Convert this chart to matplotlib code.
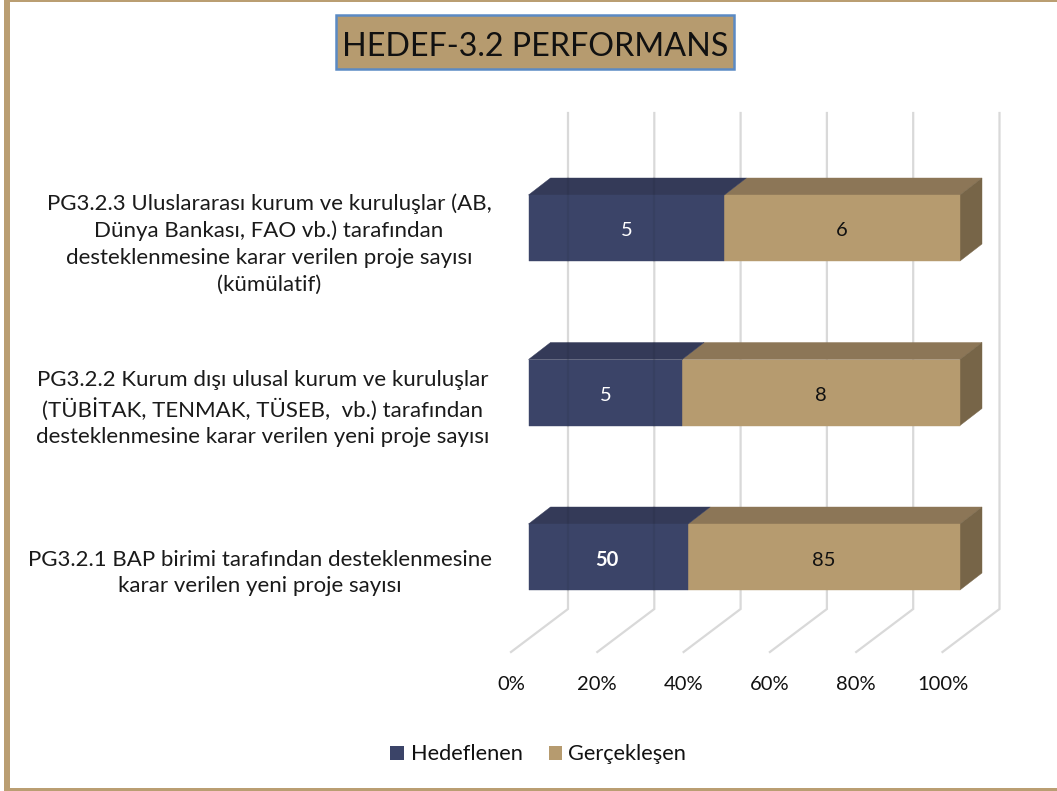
import matplotlib
matplotlib.use("Agg")
import matplotlib.pyplot as plt
from matplotlib.patches import Polygon, Rectangle


# ---------------- DATA ----------------
kategoriler = [
    "PG3.2.1 BAP birimi tarafından desteklenmesine\nkarar verilen yeni proje sayısı",
    "PG3.2.2 Kurum dışı ulusal kurum ve kuruluşlar\n(TÜBİTAK, TENMAK, TÜSEB,  vb.) tarafından\ndesteklenmesine karar verilen yeni proje sayısı",
    "PG3.2.3 Uluslararası kurum ve kuruluşlar (AB,\nDünya Bankası, FAO vb.) tarafından\ndesteklenmesine karar verilen proje sayısı\n(kümülatif)",
]
# bar shares, printed labels kept apart
hedeflenen_pay = [37.0, 35.6, 45.4]
gerceklesen_pay = [63.0, 64.4, 54.6]
hedeflenen_etiket = ["50", "5", "5"]
gerceklesen_etiket = ["85", "8", "6"]
x_ticks = [0, 20, 40, 60, 80, 100]
x_tick_labels = ["0%", "20%", "40%", "60%", "80%", "100%"]
baslik = "HEDEF-3.2 PERFORMANS"
seri_adlari = ["Hedeflenen", "Gerçekleşen"]

# ---------------- STYLE ----------------
NAVY, NAVY_TOP = "#3B4468", "#343A58"
TAN, TAN_TOP, TAN_SIDE = "#B69B6F", "#8C7657", "#776548"
GRID = "#D9D9D9"
BORDER = "#BA9E72"
W, H = 1057, 791

plt.rcParams["font.family"] = ["Lato", "DejaVu Sans"]

fig = plt.figure(figsize=(W / 100, H / 100), dpi=100)


def fig_rect(x0, y0, x1, y1, **kw):
    # pixel box, y counted from the top of the image
    fig.patches.append(Rectangle((x0 / W, 1 - y1 / H), (x1 - x0) / W, (y1 - y0) / H,
                                 transform=fig.transFigure, **kw))


# ---------------- FRAME ----------------
fig_rect(4, 0, 10, H, fc=BORDER, ec="none")
fig_rect(4, 0, W, 2, fc=BORDER, ec="none")
fig_rect(4, 788, W, H, fc=BORDER, ec="none")

# axes = front plane of the bars, 0-100% in x, categories in y
left, right, top, bottom = 528.5, 960, 145.75, 639.25
ax = fig.add_axes([left / W, 1 - bottom / H, (right - left) / W, (bottom - top) / H])
ax.set_xlim(0, 100)
ax.set_ylim(-0.5, 2.5)
ax.axis("off")

px_x = 100 / (right - left)
px_y = 3 / (bottom - top)
depth_x, depth_y = 22 * px_x, 17 * px_y
bar_h = 66 * px_y

# ---------------- BACK WALL AND FLOOR ----------------
wall_x, wall_y = 39.5 * px_x, (bottom - 609) * px_y - 0.5
floor_x, floor_y = -17.5 * px_x, (bottom - 652) * px_y - 0.5
wall_top = 2.5 + (top - 113) * px_y
for t, lab in zip(x_ticks, x_tick_labels):
    ax.plot([t + floor_x, t + wall_x, t + wall_x], [floor_y, wall_y, wall_top],
            color=GRID, lw=1.6, clip_on=False, zorder=1, solid_joinstyle="miter")
    ax.text(t + floor_x, floor_y - 32 * px_y, lab, ha="center", va="center",
            fontsize=14.5, color="#111111")

# ---------------- BARS ----------------
for i in range(len(kategoriler)):
    a, b = hedeflenen_pay[i], gerceklesen_pay[i]
    y0, y1 = i - bar_h / 2, i + bar_h / 2
    ax.add_patch(Polygon([(a, y1), (a + b, y1), (a + b + depth_x, y1 + depth_y), (a + depth_x, y1 + depth_y)],
                         fc=TAN_TOP, ec=TAN_TOP, lw=0.3, zorder=2, clip_on=False))
    ax.add_patch(Polygon([(a + b, y0), (a + b + depth_x, y0 + depth_y), (a + b + depth_x, y1 + depth_y), (a + b, y1)],
                         fc=TAN_SIDE, ec=TAN_SIDE, lw=0.3, zorder=2, clip_on=False))
    ax.add_patch(Rectangle((a, y0), b, bar_h, fc=TAN, ec=TAN, lw=0.3, zorder=2, clip_on=False))
    ax.add_patch(Polygon([(0, y1), (a, y1), (a + depth_x, y1 + depth_y), (depth_x, y1 + depth_y)],
                         fc=NAVY_TOP, ec=NAVY_TOP, lw=0.3, zorder=3, clip_on=False))
    ax.add_patch(Rectangle((0, y0), a, bar_h, fc=NAVY, ec=NAVY, lw=0.3, zorder=3, clip_on=False))

    # back wall lines show faintly through the navy part
    for t in x_ticks:
        if t + wall_x < a:
            ax.plot([t + wall_x, t + wall_x], [y0, y1 + depth_y], color="black", alpha=0.06,
                    lw=1.6, zorder=3.5, clip_on=False)

    kalin = "bold" if hedeflenen_etiket[i] == "50" else "normal"
    ax.text(a / 2 - (1 if kalin == "bold" else 0) * 2 * px_x, i - 3 * px_y, hedeflenen_etiket[i], color="white",
            ha="center", va="center", fontsize=14.5, fontweight=kalin, zorder=4)
    ax.text(a + b / 2, i - 3 * px_y, gerceklesen_etiket[i], color="#111111", ha="center", va="center",
            fontsize=14.5, zorder=4)

# ---------------- CATEGORY LABELS ----------------
label_x = [260, 263, 269]
for i, lab in enumerate(kategoriler):
    fig.text(label_x[i] / W, 1 - (573 - 164.5 * i) / H, lab, ha="center", va="center",
             fontsize=16, linespacing=1.42, color="#1A1A1A")

# ---------------- TITLE BOX ----------------
fig_rect(336, 15, 734, 69, fc=TAN, ec="#5B8AC4", lw=1.8, zorder=0)
fig.text(535 / W, 1 - 47 / H, baslik, ha="center", va="center", fontsize=23.2, color="#111111")

# ---------------- LEGEND ----------------
fig_rect(390, 746, 404, 760, fc=NAVY, ec="none")
fig_rect(549, 746, 562, 760, fc=TAN, ec="none")
fig.text(411 / W, 1 - 754 / H, seri_adlari[0], ha="left", va="center", fontsize=15.7, color="#111111")
fig.text(568 / W, 1 - 754 / H, seri_adlari[1], ha="left", va="center", fontsize=15.7, color="#111111")

fig.savefig("out.png", dpi=100)
